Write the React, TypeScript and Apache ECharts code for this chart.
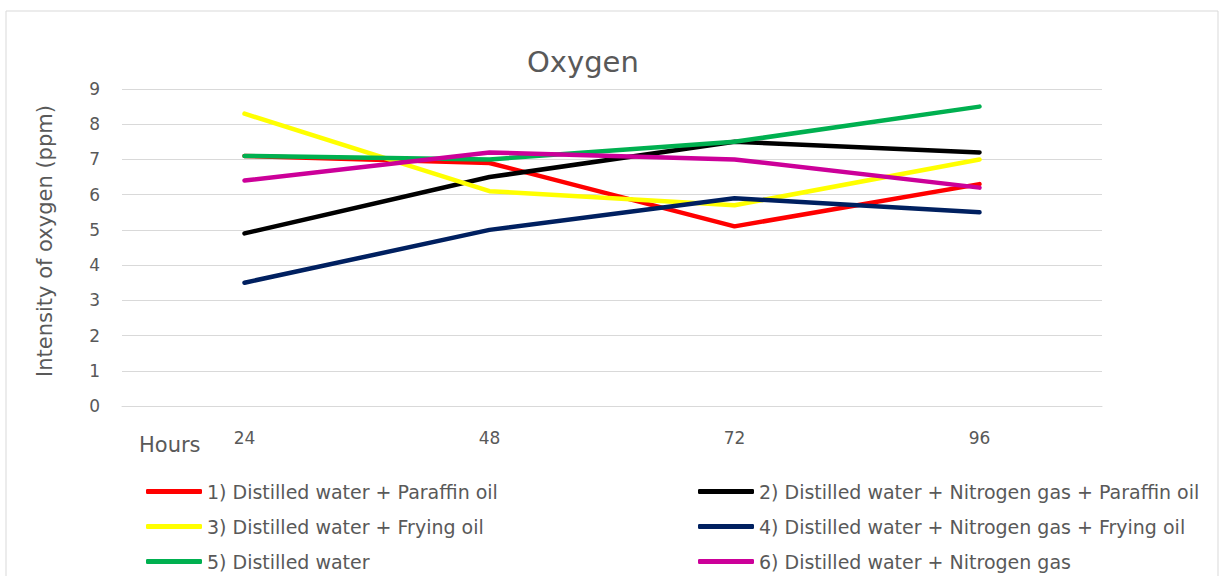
import React, { useEffect, useRef } from "react";
import * as echarts from "echarts";

const categories = ["24", "48", "72", "96"];
const seriesNames = [
  "1) Distilled water + Paraffin oil",
  "2) Distilled water + Nitrogen gas + Paraffin oil",
  "3) Distilled water + Frying oil",
  "4) Distilled water + Nitrogen gas + Frying oil",
  "5) Distilled water",
  "6) Distilled water + Nitrogen gas",
];
const s1 = [7.1, 6.9, 5.1, 6.3];
const s2 = [4.9, 6.5, 7.5, 7.2];
const s3 = [8.3, 6.1, 5.7, 7.0];
const s4 = [3.5, 5.0, 5.9, 5.5];
const s5 = [7.1, 7.0, 7.5, 8.5];
const s6 = [6.4, 7.2, 7.0, 6.2];
const seriesValues = [s1, s2, s3, s4, s5, s6];
const colors = ["#FF0000", "#000000", "#FFFF00", "#002060", "#00B050", "#CC0099"];

const FONT = "DejaVu Sans";
const TXT = "#595959";

export default function App() {
  const ref = useRef<HTMLDivElement>(null);
  useEffect(() => {
    if (!ref.current) return;
    const chart = echarts.init(ref.current, null, { renderer: "svg" });
    const legendCommon = {
      orient: "vertical",
      top: 481,
      height: 95,
      padding: 0,
      itemWidth: 56,
      itemHeight: 5,
      itemGap: 14,
      icon: "roundRect",
      textStyle: { color: TXT, fontSize: 19, fontFamily: FONT, lineHeight: 21 },
    };
    chart.setOption({
      animation: false,
      backgroundColor: "#ffffff",
      textStyle: { fontFamily: FONT },
      title: {
        text: "Oxygen",
        left: 522,
        top: 42,
        textStyle: { color: TXT, fontSize: 29, fontWeight: "normal", fontFamily: FONT },
      },
      grid: { left: 122, right: 121, top: 89, bottom: 170 },
      legend: [
        { ...legendCommon, left: 146, data: [seriesNames[0], seriesNames[2], seriesNames[4]] },
        { ...legendCommon, left: 698, data: [seriesNames[1], seriesNames[3], seriesNames[5]] },
      ],
      xAxis: {
        type: "category",
        data: categories,
        boundaryGap: true,
        axisLine: { show: true, lineStyle: { color: "#d9d9d9", width: 1 } },
        axisTick: { show: false },
        axisLabel: { color: TXT, fontSize: 17, fontFamily: FONT, margin: 23 },
      },
      yAxis: {
        type: "value",
        min: 0,
        max: 9,
        interval: 1,
        axisLine: { show: false },
        axisTick: { show: false },
        axisLabel: { color: TXT, fontSize: 17, fontFamily: FONT, margin: 22 },
        splitLine: { lineStyle: { color: "#d9d9d9", width: 1 } },
      },
      graphic: [
        {
          type: "rect",
          shape: { x: 6, y: 11, width: 1212, height: 580 },
          style: { fill: "none", stroke: "#d9d9d9", lineWidth: 1 },
          silent: true,
        },
        {
          type: "text",
          x: 45,
          y: 241,
          rotation: Math.PI / 2,
          style: {
            text: "Intensity of oxygen (ppm)",
            fill: TXT,
            fontSize: 21,
            fontFamily: FONT,
            align: "center",
            verticalAlign: "middle",
          },
        },
        {
          type: "text",
          x: 139,
          y: 445,
          style: {
            text: "Hours",
            fill: TXT,
            fontSize: 21,
            fontFamily: FONT,
            align: "left",
            verticalAlign: "middle",
          },
        },
      ],
      series: seriesValues.map((vals, i) => ({
        name: seriesNames[i],
        type: "line",
        data: vals,
        symbol: "none",
        color: colors[i],
        lineStyle: { width: 4.5, color: colors[i], cap: "round", join: "round" },
        itemStyle: { color: colors[i] },
      })),
    });
    return () => chart.dispose();
  }, []);
  return (
    <div
      ref={ref}
      style={{ position: "fixed", left: 0, top: 0, width: 1223, height: 576 }}
    />
  );
}
